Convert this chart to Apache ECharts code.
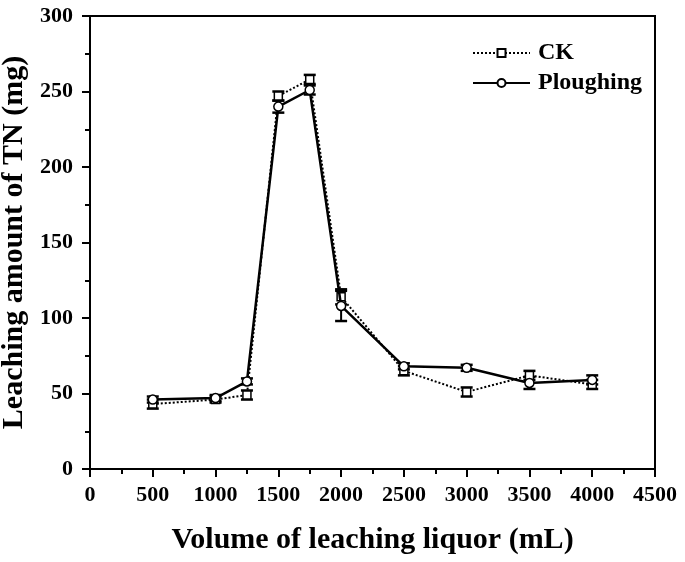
<!DOCTYPE html>
<html><head><meta charset="utf-8">
<script src="https://cdn.jsdelivr.net/npm/echarts@6/dist/echarts.min.js"></script>
<style>html,body{margin:0;padding:0;background:#fff}#c{width:685px;height:562px}</style>
</head><body><div id="c"></div>
<script>
var volumes = [500, 1000, 1250, 1500, 1750, 2000, 2500, 3000, 3500, 4000];
var ckValues = [43, 46, 49, 247, 258, 114, 65, 51, 62, 56];
var ckErrors = [3, 2, 3, 3, 3, 5, 3, 3, 3, 3];
var plValues = [46, 47, 58, 240, 251, 108, 68, 67, 57, 59];
var plErrors = [2, 2, 2, 4, 3, 10, 2, 2, 4, 3];
var xTicks = [0, 500, 1000, 1500, 2000, 2500, 3000, 3500, 4000, 4500];
var yTicks = [0, 50, 100, 150, 200, 250, 300];

var FONT = '"Liberation Serif","Times New Roman",serif';
function pairs(vals){ return volumes.map(function(v,i){ return [v, vals[i]]; }); }
function errData(vals, errs){ return volumes.map(function(v,i){ return [v, vals[i]-errs[i], vals[i]+errs[i]]; }); }
function errRender(params, api){
  var x = api.value(0), lo = api.value(1), hi = api.value(2);
  var p1 = api.coord([x, lo]), p2 = api.coord([x, hi]);
  var w = 6;
  var st = {stroke:'#000', lineWidth:2};
  var cap = {stroke:'#000', lineWidth:2.5};
  return {type:'group', children:[
    {type:'line', shape:{x1:p1[0],y1:p1[1],x2:p2[0],y2:p2[1]}, style:st},
    {type:'line', shape:{x1:p1[0]-w,y1:p1[1],x2:p1[0]+w,y2:p1[1]}, style:cap},
    {type:'line', shape:{x1:p2[0]-w,y1:p2[1],x2:p2[0]+w,y2:p2[1]}, style:cap}
  ]};
}
var chart = echarts.init(document.getElementById('c'), null, {renderer:'canvas'});
chart.setOption({
  animation:false,
  backgroundColor:'#fff',
  grid:{left:90, right:30, top:16, bottom:93, show:true, borderColor:'#000', borderWidth:2,
    containLabel:false, outerBoundsMode:'none'},
  legend:{
    left:472, top:41, padding:0, orient:'vertical', itemGap:6, itemWidth:57, itemHeight:10,
    textStyle:{fontFamily:FONT, fontWeight:'bold', fontSize:24, color:'#000', padding:[0,0,0,3]},
    data:['CK','Ploughing']
  },
  xAxis:{
    type:'value', min:0, max:4500, interval:500,
    axisLine:{lineStyle:{color:'#000', width:2}},
    axisTick:{inside:false, length:8, lineStyle:{color:'#000', width:2}},
    minorTick:{show:true, splitNumber:2, length:5, lineStyle:{color:'#000', width:2}},
    splitLine:{show:false},
    axisLabel:{fontFamily:FONT, fontWeight:'bold', fontSize:22, color:'#000', margin:15,
      formatter:function(v){ return xTicks.indexOf(v)>=0 ? String(v) : ''; }},
    name:'Volume of leaching liquor (mL)', nameLocation:'middle', nameGap:56,
    nameTextStyle:{fontFamily:FONT, fontWeight:'bold', fontSize:30, color:'#000'}
  },
  yAxis:{
    type:'value', min:0, max:300, interval:50,
    axisLine:{show:true, lineStyle:{color:'#000', width:2}},
    axisTick:{show:true, length:8, lineStyle:{color:'#000', width:2}},
    minorTick:{show:true, splitNumber:2, length:5, lineStyle:{color:'#000', width:2}},
    splitLine:{show:false},
    axisLabel:{fontFamily:FONT, fontWeight:'bold', fontSize:22, color:'#000', margin:17,
      formatter:function(v){ return yTicks.indexOf(v)>=0 ? String(v) : ''; }},
    name:'Leaching amount of TN (mg)', nameLocation:'middle', nameGap:55,
    nameTextStyle:{fontFamily:FONT, fontWeight:'bold', fontSize:30, color:'#000'}
  },
  series:[
    {type:'custom', renderItem:errRender, data:errData(ckValues, ckErrors), z:3, silent:true},
    {type:'custom', renderItem:errRender, data:errData(plValues, plErrors), z:3, silent:true},
    {name:'CK', type:'line', data:pairs(ckValues), symbol:'rect', symbolSize:8,
      lineStyle:{color:'#000', width:2, type:'dotted'},
      itemStyle:{color:'#fff', borderColor:'#000', borderWidth:1.5}, z:4},
    {name:'Ploughing', type:'line', data:pairs(plValues), symbol:'circle', symbolSize:9,
      lineStyle:{color:'#000', width:2.5, type:'solid'},
      itemStyle:{color:'#fff', borderColor:'#000', borderWidth:1.5}, z:5}
  ]
});
</script></body></html>
